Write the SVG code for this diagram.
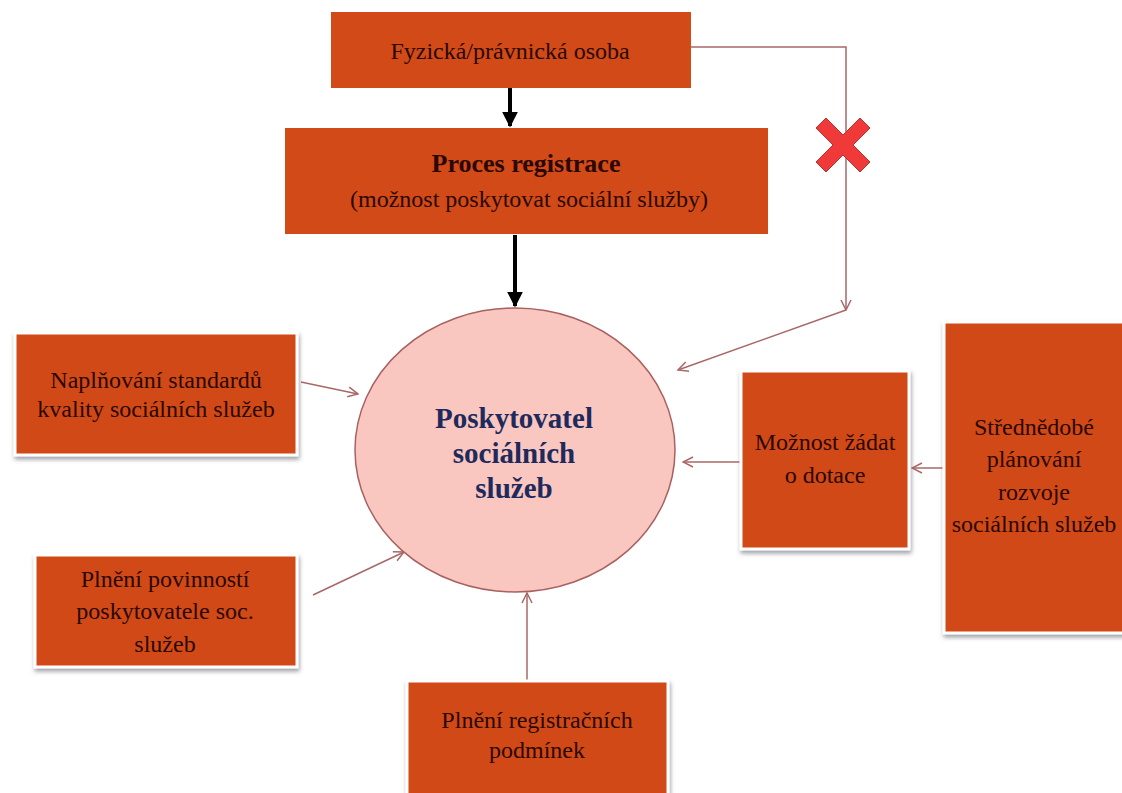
<svg xmlns="http://www.w3.org/2000/svg" width="1122" height="793" viewBox="0 0 1122 793">
<style>
.box{fill:#D14A17;}
.sbox{fill:#D14A17;stroke:#ffffff;stroke-width:3;filter:url(#sh);}
.t{font-family:"Liberation Serif",serif;font-size:24px;fill:#2a0800;text-anchor:middle;}
.tb{font-weight:bold;font-size:26px;}
.c{font-family:"Liberation Serif",serif;font-size:29px;font-weight:bold;fill:#1F2A5C;text-anchor:middle;}
.thin{stroke:#A86868;stroke-width:1.5;fill:none;}
.thick{stroke:#000;stroke-width:4;fill:none;}
</style>
<defs>
<marker id="ah" viewBox="0 0 12 12" refX="11" refY="6" markerWidth="12" markerHeight="12" markerUnits="userSpaceOnUse" orient="auto">
<path d="M1,1 L11,6 L1,11" fill="none" stroke="#A86868" stroke-width="1.5"/>
</marker>
<marker id="bh" viewBox="0 0 10 10" refX="9" refY="5" markerWidth="4" markerHeight="4" orient="auto">
<path d="M0,0 L10,5 L0,10 Z" fill="#000"/>
</marker>
<filter id="sh" x="-10%" y="-10%" width="125%" height="130%">
<feDropShadow dx="1" dy="3" stdDeviation="2" flood-color="#606070" flood-opacity="0.6"/>
</filter>
</defs>
<rect width="1122" height="793" fill="#ffffff"/>
<g id="connectors">
<line class="thick" x1="510" y1="88" x2="510" y2="126" marker-end="url(#bh)"/>
<line class="thick" x1="515" y1="235" x2="515" y2="306" marker-end="url(#bh)"/>
<polyline class="thin" points="690,47 846,47 846,310" marker-end="url(#ah)"/>
<line class="thin" x1="846" y1="310" x2="678" y2="370" marker-end="url(#ah)"/>
<line class="thin" x1="301" y1="382" x2="358" y2="394" marker-end="url(#ah)"/>
<line class="thin" x1="313" y1="595" x2="404" y2="552" marker-end="url(#ah)"/>
<line class="thin" x1="740" y1="462" x2="683" y2="462" marker-end="url(#ah)"/>
<line class="thin" x1="944" y1="468" x2="912" y2="468" marker-end="url(#ah)"/>
<line class="thin" x1="527" y1="681" x2="527" y2="593" marker-end="url(#ah)"/>
<path d="M826,118 L843,135 L860,118 L870,128 L853,145 L870,162 L860,172 L843,155 L826,172 L816,162 L833,145 L816,128 Z" fill="#F03A3A" stroke="#B83030" stroke-width="1"/>
</g>
<g id="n-osoba">
<rect class="box" x="331" y="12" width="360" height="76"/>
<text class="t" x="510" y="59">Fyzická/právnická osoba</text>
</g>
<g id="n-registrace">
<rect class="box" x="285" y="128" width="483" height="106"/>
<text class="t tb" x="526" y="172">Proces registrace</text>
<text class="t" x="529" y="207">(možnost poskytovat sociální služby)</text>
</g>
<g id="n-poskytovatel">
<ellipse cx="515" cy="450" rx="160" ry="142" fill="#F9C6C0" stroke="#A86060" stroke-width="1.5"/>
<text class="c" x="514" y="428">Poskytovatel</text>
<text class="c" x="514" y="463">sociálních</text>
<text class="c" x="514" y="498">služeb</text>
</g>
<g id="n-standardy">
<rect class="sbox" x="15" y="333" width="282" height="122"/>
<text class="t" x="156" y="388">Naplňování standardů</text>
<text class="t" x="156" y="417">kvality sociálních služeb</text>
</g>
<g id="n-povinnosti">
<rect class="sbox" x="35" y="555" width="262" height="112"/>
<text class="t" x="165" y="587">Plnění povinností</text>
<text class="t" x="165" y="619">poskytovatele soc.</text>
<text class="t" x="165" y="652">služeb</text>
</g>
<g id="n-dotace">
<rect class="sbox" x="741" y="371" width="168" height="178"/>
<text class="t" x="825" y="450">Možnost žádat</text>
<text class="t" x="825" y="483">o dotace</text>
</g>
<g id="n-planovani">
<rect class="sbox" x="944" y="322" width="180" height="311"/>
<text class="t" x="1034" y="435">Střednědobé</text>
<text class="t" x="1034" y="467">plánování</text>
<text class="t" x="1034" y="500">rozvoje</text>
<text class="t" x="1034" y="532">sociálních služeb</text>
</g>
<g id="n-podminky">
<rect class="sbox" x="407" y="681" width="261" height="120"/>
<text class="t" x="537" y="728">Plnění registračních</text>
<text class="t" x="537" y="758">podmínek</text>
</g>
</svg>
